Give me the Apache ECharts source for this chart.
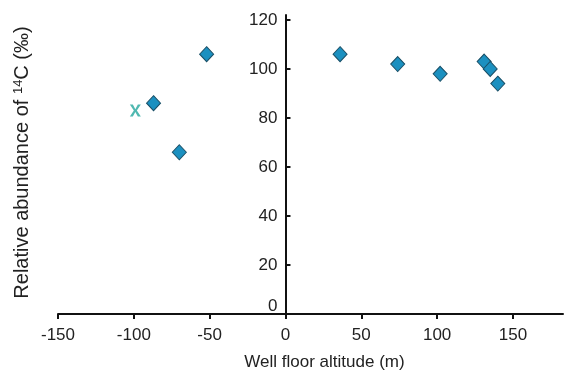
<!DOCTYPE html>
<html>
<head>
<meta charset="utf-8">
<script src="https://cdn.jsdelivr.net/npm/echarts@6/dist/echarts.min.js"></script>
<style>
html,body{margin:0;padding:0;background:#fff;}
#c{width:565px;height:372px;}
</style>
</head>
<body>
<div id="c"></div>
<script>
const xTicks = [-150, -100, -50, 0, 50, 100, 150];
const yTicks = [0, 20, 40, 60, 80, 100, 120];
const diamondX = [-87, -70, -52, 36, 74, 102, 131, 135, 140];
const diamondY = [86, 66, 106, 106, 102, 98, 103, 100, 94];
const crossX = [-99];
const crossY = [83];

const FONT = 'Liberation Sans, Arial, sans-serif';
const chart = echarts.init(document.getElementById('c'), null, {renderer: 'canvas'});
const crossPath = 'path://M0,0 L3,0 L5.5,4.6 L8,0 L11,0 L7,6 L11,12 L8,12 L5.5,7.4 L3,12 L0,12 L4,6 Z';

const GRID_LEFT = 58, GRID_RIGHT = 2;
const X_MIN = -150, X_MAX = 183;
const plotW = 565 - GRID_LEFT - GRID_RIGHT;
const zeroOffset = -plotW * (0 - X_MIN) / (X_MAX - X_MIN);

chart.setOption({
  animation: false,
  backgroundColor: '#fff',
  grid: {left: GRID_LEFT, right: GRID_RIGHT, top: 15, bottom: 58, containLabel: false, outerBoundsMode: 'none'},
  xAxis: {
    type: 'value', min: X_MIN, max: X_MAX,
    splitLine: {show: false},
    axisLine: {onZero: true, lineStyle: {color: '#111', width: 2}},
    axisTick: {show: true, inside: false, length: 5, customValues: xTicks, lineStyle: {color: '#111', width: 2}},
    axisLabel: {customValues: xTicks, margin: 13, color: '#222', fontSize: 17, fontFamily: FONT},
    name: 'Well floor altitude (m)',
    nameLocation: 'middle', nameGap: 40, nameMoveOverlap: false,
    nameTextStyle: {color: '#222', fontSize: 17, fontFamily: FONT, padding: [0, 0, 0, 28]}
  },
  yAxis: {
    type: 'value', min: 0, max: 122,
    position: 'left', offset: zeroOffset,
    splitLine: {show: false},
    axisLine: {onZero: false, lineStyle: {color: '#111', width: 2}},
    axisTick: {show: true, inside: true, length: 5, customValues: yTicks, lineStyle: {color: '#111', width: 2}},
    axisLabel: {
      customValues: yTicks, margin: 8, color: '#222', fontSize: 17, fontFamily: FONT,
      formatter: v => v === 0 ? '{z|0}' : String(v),
      rich: {z: {fontSize: 17, fontFamily: FONT, color: '#222', padding: [0, 0, 16, 0]}}
    },
    name: 'Relative abundance of {sup|14}C (‰)',
    nameLocation: 'middle', nameGap: 252, nameMoveOverlap: false,
    nameTextStyle: {
      color: '#222', fontSize: 20, fontFamily: FONT, padding: [0, 0, 0, 4],
      rich: {sup: {fontSize: 13, fontFamily: FONT, color: '#222', padding: [0, 0, 9, 0]}}
    }
  },
  series: [
    {
      type: 'scatter',
      symbol: 'diamond',
      symbolSize: [14, 15],
      itemStyle: {color: '#1b90c0', borderColor: '#1a4f66', borderWidth: 1, opacity: 1},
      data: diamondX.map((x, i) => [x, diamondY[i]])
    },
    {
      type: 'scatter',
      symbol: crossPath,
      symbolSize: [11, 12],
      itemStyle: {color: '#4fb8b0', opacity: 1},
      data: crossX.map((x, i) => [x, crossY[i]])
    }
  ]
});
</script>
</body>
</html>
